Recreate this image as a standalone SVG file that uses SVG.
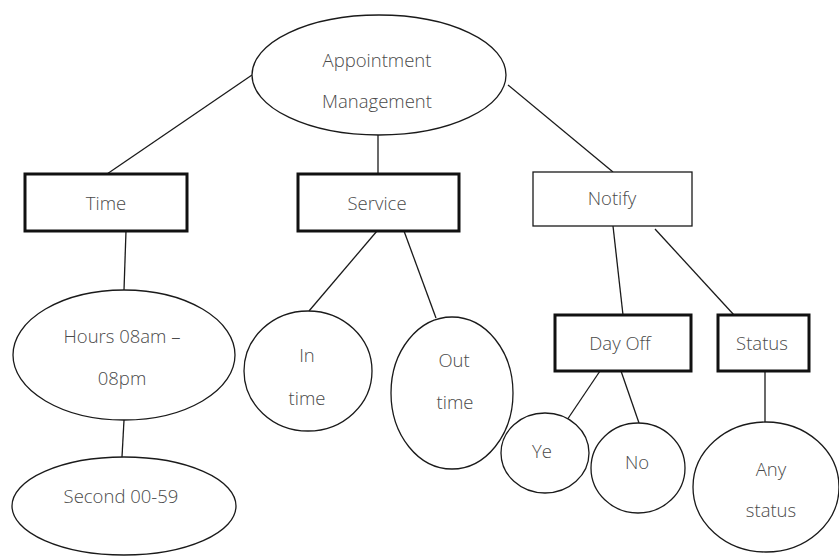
<svg xmlns="http://www.w3.org/2000/svg" width="839" height="556" viewBox="0 0 839 556">
  <style>
    .shape { fill: #ffffff; stroke: #1a1a1a; stroke-width: 1.3; }
    .box-bold { fill: #ffffff; stroke: #111111; stroke-width: 3; }
    .box-thin { fill: #ffffff; stroke: #1a1a1a; stroke-width: 1.3; }
    .edge { stroke: #1a1a1a; stroke-width: 1.3; fill: none; }
    .label { font-family: "Open Sans", "Noto Sans", sans-serif; font-size: 18.5px; font-weight: 300; fill: #4a4a4a; text-anchor: middle; }
  </style>
  <rect width="839" height="556" fill="#ffffff"/>

  <!-- tree connectors -->
  <g id="connectors">
    <line class="edge" x1="252" y1="75" x2="107" y2="174"/>
    <line class="edge" x1="378" y1="135" x2="378" y2="174"/>
    <line class="edge" x1="508" y1="85" x2="613" y2="172"/>
    <line class="edge" x1="126" y1="231" x2="124" y2="290"/>
    <line class="edge" x1="124" y1="420" x2="122" y2="457"/>
    <line class="edge" x1="377" y1="231" x2="309" y2="311"/>
    <line class="edge" x1="404" y1="231" x2="436" y2="318"/>
    <line class="edge" x1="613" y1="226" x2="623" y2="315"/>
    <line class="edge" x1="655" y1="229" x2="734" y2="315"/>
    <line class="edge" x1="600" y1="371" x2="567" y2="420"/>
    <line class="edge" x1="621" y1="371" x2="639" y2="423"/>
    <line class="edge" x1="765" y1="371" x2="765" y2="422"/>
  </g>

  <g id="appointment-management">
    <ellipse class="shape" cx="379" cy="75" rx="127" ry="60"/>
    <text class="label" x="377" y="67">Appointment</text>
    <text class="label" x="377" y="108">Management</text>
  </g>

  <g id="time">
    <rect class="box-bold" x="25" y="174" width="162" height="57"/>
    <text class="label" x="106" y="210">Time</text>
  </g>

  <g id="service">
    <rect class="box-bold" x="298" y="174" width="161" height="57"/>
    <text class="label" x="377" y="210">Service</text>
  </g>

  <g id="notify">
    <rect class="box-thin" x="533" y="172" width="159" height="54"/>
    <text class="label" x="612" y="205">Notify</text>
  </g>

  <g id="day-off">
    <rect class="box-bold" x="555" y="315" width="136" height="56"/>
    <text class="label" x="620" y="350">Day Off</text>
  </g>

  <g id="status">
    <rect class="box-bold" x="718" y="315" width="91" height="56"/>
    <text class="label" x="762" y="350">Status</text>
  </g>

  <g id="hours">
    <ellipse class="shape" cx="124" cy="355" rx="111" ry="65"/>
    <text class="label" x="122" y="343">Hours 08am –</text>
    <text class="label" x="122" y="385">08pm</text>
  </g>

  <g id="second">
    <ellipse class="shape" cx="124" cy="506" rx="112" ry="49"/>
    <text class="label" x="121" y="503">Second 00-59</text>
  </g>

  <g id="in-time">
    <ellipse class="shape" cx="308" cy="371" rx="64" ry="60"/>
    <text class="label" x="307" y="362">In</text>
    <text class="label" x="307" y="405">time</text>
  </g>

  <g id="out-time">
    <ellipse class="shape" cx="452" cy="393" rx="61" ry="76"/>
    <text class="label" x="454" y="367">Out</text>
    <text class="label" x="455" y="409">time</text>
  </g>

  <g id="ye">
    <ellipse class="shape" cx="545" cy="453" rx="44" ry="40"/>
    <text class="label" x="542" y="458">Ye</text>
  </g>

  <g id="no">
    <ellipse class="shape" cx="638" cy="468" rx="47" ry="45"/>
    <text class="label" x="637" y="469">No</text>
  </g>

  <g id="any-status">
    <ellipse class="shape" cx="766" cy="487" rx="73" ry="65"/>
    <text class="label" x="771" y="476">Any</text>
    <text class="label" x="771" y="517">status</text>
  </g>
</svg>
